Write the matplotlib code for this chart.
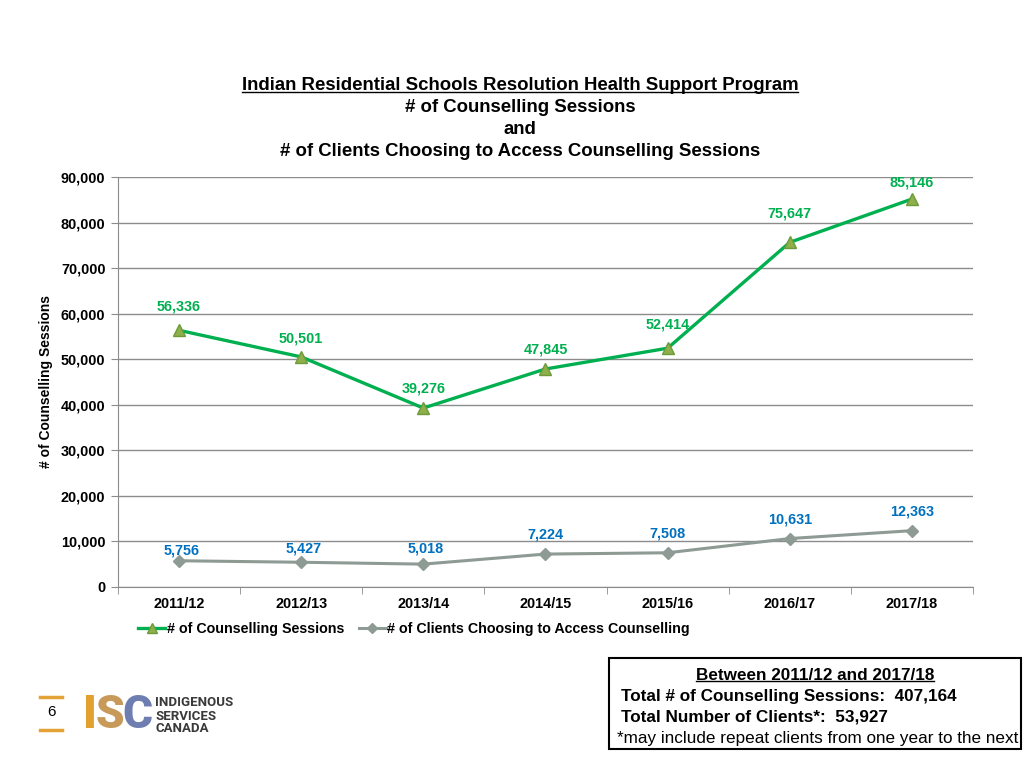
#!/usr/bin/env python3
"""IRS RHSP counselling sessions and clients, 2011/12 to 2017/18."""

import matplotlib
matplotlib.use("Agg")
import matplotlib.pyplot as plt
from matplotlib.lines import Line2D
from matplotlib.patches import Rectangle

plt.rcParams["font.family"] = ["Liberation Sans", "DejaVu Sans"]

years = ["2011/12", "2012/13", "2013/14", "2014/15", "2015/16", "2016/17", "2017/18"]
sessions = [56336, 50501, 39276, 47845, 52414, 75647, 85146]
clients = [5756, 5427, 5018, 7224, 7508, 10631, 12363]

title_lines = [
    "Indian Residential Schools Resolution Health Support Program",
    "# of Counselling Sessions",
    "and",
    "# of Clients Choosing to Access Counselling Sessions",
]

GREEN = "#00B050"
BLUE = "#0070C0"
GREY_LINE = "#8E9A94"
GRID = "#8C8C8C"
FS = 10.4

# label offsets in points (Excel placed these "above")
sess_off = [(0, 12), (0, 8), (0, 9), (0, 9), (0, 12), (0, 16), (0, 7)]
cli_off = [(2, 2), (2, 5), (2, 6), (0, 9), (0, 9), (0, 9), (0, 9)]


def underline(fig, txt, lw=1.0):
    fig.canvas.draw()
    bb = txt.get_window_extent(fig.canvas.get_renderer())
    bb = bb.transformed(fig.transFigure.inverted())
    y = bb.y0 + 0.002
    fig.add_artist(Line2D([bb.x0, bb.x1], [y, y], color="black", lw=lw,
                          transform=fig.transFigure))


fig = plt.figure(figsize=(10.24, 7.68), dpi=100)
ax = fig.add_axes([0.1152, 0.2357, 0.835, 0.5339])

x = range(len(years))
ax.plot(x, sessions, "-", color=GREEN, lw=2.4, marker="^", markersize=9,
        markerfacecolor="#8DB04A", markeredgecolor="#6E9A3A", zorder=3,
        label="# of Counselling Sessions")
ax.plot(x, clients, "-", color=GREY_LINE, lw=2.2, marker="D", markersize=6.5,
        markerfacecolor=GREY_LINE, markeredgecolor=GREY_LINE, zorder=3,
        label="# of Clients Choosing to Access Counselling")

for i, v in enumerate(sessions):
    ax.annotate(f"{v:,}", (i, v), xytext=sess_off[i], textcoords="offset points",
                ha="center", va="bottom", color=GREEN, fontsize=FS,
                fontweight="bold")
for i, v in enumerate(clients):
    ax.annotate(f"{v:,}", (i, v), xytext=cli_off[i], textcoords="offset points",
                ha="center", va="bottom", color=BLUE, fontsize=FS,
                fontweight="bold")

ax.set_xlim(-0.5, len(years) - 0.5)
ax.set_ylim(0, 90000)
ax.set_yticks(range(0, 90001, 10000))
ax.set_yticklabels([f"{t:,}" for t in range(0, 90001, 10000)],
                   fontsize=FS, fontweight="bold")
ax.set_xticks(list(x))
ax.set_xticklabels(years, fontsize=FS, fontweight="bold")
ax.set_xticks([i + 0.5 for i in range(-1, len(years))], minor=True)
ax.tick_params(axis="x", which="major", length=0, pad=7)
ax.tick_params(axis="x", which="minor", length=5, color=GRID, direction="out")
ax.tick_params(axis="y", length=5, color=GRID, pad=4)
ax.grid(axis="y", color=GRID, lw=1)
ax.set_axisbelow(True)
for s in ("top", "right"):
    ax.spines[s].set_visible(False)
for s in ("left", "bottom"):
    ax.spines[s].set_color(GRID)
ax.set_ylabel("# of Counselling Sessions", fontsize=10, fontweight="bold",
              labelpad=6)

fig.legend(loc="center", bbox_to_anchor=(414 / 1024, 1 - 629 / 768), ncol=2,
           frameon=False, prop={"weight": "bold", "size": 10.3},
           handlelength=1.9, handletextpad=0.1, columnspacing=1.0,
           markerscale=0.8)

title_y = [85, 107, 130, 152]
title_txt = []
for line, yy in zip(title_lines, title_y):
    t = fig.text(520 / 1024, 1 - yy / 768, line, ha="center", va="center",
                 fontsize=13.4, fontweight="bold")
    title_txt.append(t)
underline(fig, title_txt[0])

# summary box
fig.add_artist(Rectangle((609 / 1024, 1 - 749 / 768), 412 / 1024, 91 / 768,
                         transform=fig.transFigure, fill=False, ec="black",
                         lw=1.5))
hdr = fig.text(815 / 1024, 1 - 675 / 768, "Between 2011/12 and 2017/18",
               ha="center", va="center", fontsize=12.3, fontweight="bold")
underline(fig, hdr)
fig.text(621 / 1024, 1 - 696 / 768, "Total # of Counselling Sessions:  407,164",
         ha="left", va="center", fontsize=12.3, fontweight="bold")
fig.text(621 / 1024, 1 - 717 / 768, "Total Number of Clients*:  53,927",
         ha="left", va="center", fontsize=12.3, fontweight="bold")
fig.text(617 / 1024, 1 - 738 / 768,
         "*may include repeat clients from one year to the next",
         ha="left", va="center", fontsize=12.3)

# page number and ISC logo
ORANGE = "#E3A235"
for yy in (697, 730):
    fig.add_artist(Line2D([40 / 1024, 62 / 1024], [1 - yy / 768, 1 - yy / 768],
                          color=ORANGE, lw=2.5, transform=fig.transFigure))
fig.text(51 / 1024, 1 - 712 / 768, "6", ha="center", va="center", fontsize=11)
for ch, xx, col in [("I", 90, "#E1A030"), ("S", 110, "#C89A5A"),
                    ("C", 137, "#6E7EB0")]:
    fig.text(xx / 1024, 1 - 715 / 768, ch, ha="center", va="center",
             fontsize=33, fontweight=900, color=col,
             family=["Roboto", "DejaVu Sans"])
for yy, word in [(703, "INDIGENOUS"), (716, "SERVICES"), (728, "CANADA")]:
    fig.text(155 / 1024, 1 - yy / 768, word, ha="left", va="center",
             fontsize=9.5, fontweight="bold", color="#3A3A3A",
             family=["Roboto", "DejaVu Sans"])

fig.savefig("out.png", dpi=100)
